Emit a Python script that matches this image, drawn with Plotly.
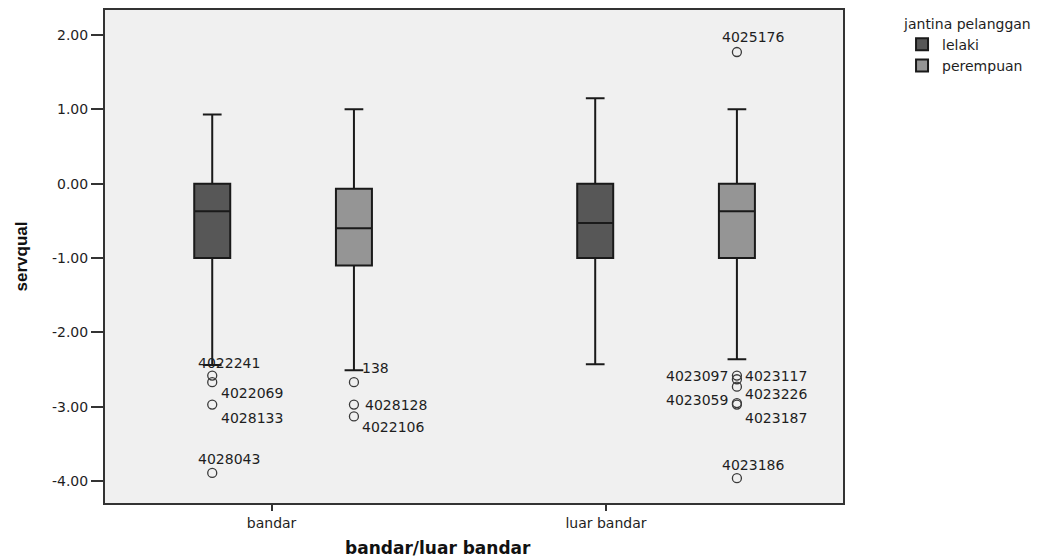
import plotly.graph_objects as go

# ---------------- data ----------------
locations = ["bandar", "luar bandar"]
genders = ["lelaki", "perempuan"]

lelaki_lowerfence = [-2.44, -2.43]
lelaki_q1 = [-1.00, -1.00]
lelaki_median = [-0.37, -0.53]
lelaki_q3 = [0.00, 0.00]
lelaki_upperfence = [0.93, 1.15]

perempuan_lowerfence = [-2.51, -2.36]
perempuan_q1 = [-1.10, -1.00]
perempuan_median = [-0.60, -0.37]
perempuan_q3 = [-0.07, 0.00]
perempuan_upperfence = [1.00, 1.00]

outlier_location = ["bandar", "bandar", "bandar", "bandar",
                    "bandar", "bandar", "bandar",
                    "luar bandar", "luar bandar", "luar bandar", "luar bandar",
                    "luar bandar", "luar bandar", "luar bandar"]
outlier_gender = ["lelaki", "lelaki", "lelaki", "lelaki",
                  "perempuan", "perempuan", "perempuan",
                  "perempuan", "perempuan", "perempuan", "perempuan",
                  "perempuan", "perempuan", "perempuan"]
outlier_value = [-2.58, -2.67, -2.97, -3.89,
                 -2.67, -2.97, -3.13,
                 -2.58, -2.63, -2.73, -2.95, -2.97, -3.96, 1.77]
outlier_id = ["4022241", "4022069", "4028133", "4028043",
              "138", "4028128", "4022106",
              "4023097", "4023117", "4023226", "4023059", "4023187", "4023186", "4025176"]

y_tickvals = [2, 1, 0, -1, -2, -3, -4]
y_ticktext = ["2.00", "1.00", "0.00", "-1.00", "-2.00", "-3.00", "-4.00"]

# ---------------- styles / layout helpers ----------------
gender_offset = {"lelaki": -0.185, "perempuan": 0.185}
gender_fill = {"lelaki": "#575757", "perempuan": "#959595"}
tick_shift = [-0.03, -0.157]
# label placement (xanchor, xshift px, yshift px) per outlier
label_style = [("left", -16, 13), ("left", 7, -11), ("left", 7, -13), ("left", -16, 14),
               ("left", 6, 14), ("left", 9, 0), ("left", 6, -11),
               ("right", -7, 0), ("left", 6, 3), ("left", 6, -7), ("right", -7, 3),
               ("left", 6, -13), ("left", -17, 13), ("left", -17, 15)]

FONT = "DejaVu Sans, Liberation Sans, Arial, sans-serif"
TEXTC = "#1e1e1e"

stats = {
    "lelaki": (lelaki_lowerfence, lelaki_q1, lelaki_median, lelaki_q3, lelaki_upperfence),
    "perempuan": (perempuan_lowerfence, perempuan_q1, perempuan_median, perempuan_q3, perempuan_upperfence),
}

fig = go.Figure()
for g in genders:
    lf, q1, med, q3, uf = stats[g]
    fig.add_trace(go.Box(
        name=g,
        x=[i + gender_offset[g] for i in range(len(locations))],
        lowerfence=lf, q1=q1, median=med, q3=q3, upperfence=uf,
        width=0.094, whiskerwidth=0.52,
        boxpoints=False,
        fillcolor=gender_fill[g],
        line=dict(color="#1a1a1a", width=2),
        hoverinfo="y",
    ))

ox = [locations.index(l) + gender_offset[g] for l, g in zip(outlier_location, outlier_gender)]
fig.add_trace(go.Scatter(
    x=ox, y=outlier_value, mode="markers", showlegend=False,
    marker=dict(symbol="circle-open", size=9, color="#3a3a3a", line=dict(width=1.3)),
    hoverinfo="text", text=outlier_id,
))

annotations = []
for xv, yv, lab, (anc, dx, dy) in zip(ox, outlier_value, outlier_id, label_style):
    annotations.append(dict(
        x=xv, y=yv, xref="x", yref="y", text=lab, showarrow=False,
        xanchor=anc, yanchor="middle", xshift=dx, yshift=dy,
        font=dict(family=FONT, size=14, color=TEXTC),
    ))

annotations.append(dict(
    x=-0.1125, y=0.5, xref="paper", yref="paper", text="<b>servqual</b>",
    showarrow=False, textangle=-90, xanchor="center", yanchor="middle",
    font=dict(family="Liberation Sans Narrow, Liberation Sans, Arial, sans-serif", size=17, color="#111"),
))
annotations.append(dict(
    x=0.451, y=-0.0909, xref="paper", yref="paper", text="<b>bandar/luar bandar</b>",
    showarrow=False, xanchor="center", yanchor="middle",
    font=dict(family=FONT, size=17, color="#111"),
))

fig.update_layout(
    width=1053, height=551,
    margin=dict(l=97, r=218, t=0, b=56),
    paper_bgcolor="white",
    plot_bgcolor="#f0f0f0",
    showlegend=True,
    legend=dict(
        title=dict(text="jantina pelanggan", font=dict(family=FONT, size=14, color=TEXTC)),
        x=1.08, xanchor="left", y=0.999, yanchor="top",
        font=dict(family=FONT, size=14, color=TEXTC),
        bgcolor="rgba(0,0,0,0)", tracegroupgap=0,
    ),
    annotations=annotations,
    xaxis=dict(
        range=[-0.465, 1.462],
        tickvals=[i + s for i, s in zip(range(len(locations)), tick_shift)],
        ticktext=locations,
        ticks="outside", ticklen=6, tickwidth=1.5, tickcolor="#333",
        tickfont=dict(family=FONT, size=14, color=TEXTC),
        showgrid=False, zeroline=False,
        showline=True, mirror=True, linecolor="#333", linewidth=2,
    ),
    yaxis=dict(
        range=[-4.294, 2.335],
        tickvals=y_tickvals, ticktext=y_ticktext,
        ticks="outside", ticklen=12, tickwidth=1.5, tickcolor="#333",
        tickfont=dict(family=FONT, size=14, color=TEXTC),
        showgrid=False, zeroline=False,
        showline=True, mirror=True, linecolor="#333", linewidth=2,
    ),
)

fig.write_html("out.html")
